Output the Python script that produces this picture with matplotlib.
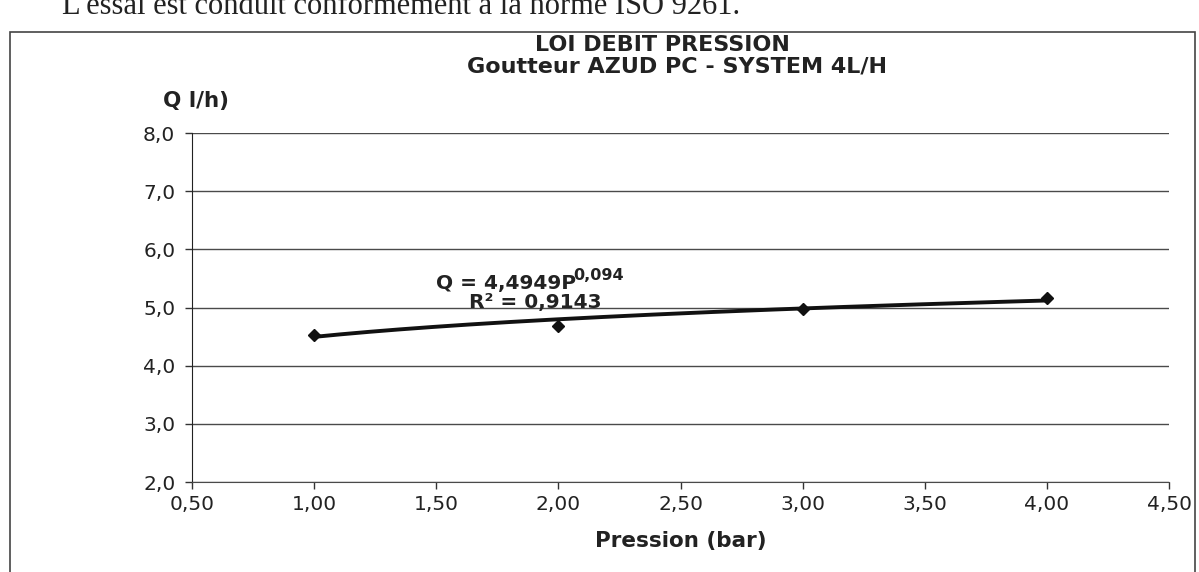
import matplotlib
matplotlib.use("Agg")
import matplotlib.pyplot as plt
import numpy as np
from matplotlib.patches import Rectangle

# Data
pression = [1.0, 2.0, 3.0, 4.0]
debit = [4.52, 4.68, 4.98, 5.17]
coef_a = 4.4949
coef_b = 0.094
r2 = 0.9143
xticks = [0.5, 1.0, 1.5, 2.0, 2.5, 3.0, 3.5, 4.0, 4.5]
yticks = [2.0, 3.0, 4.0, 5.0, 6.0, 7.0, 8.0]

plt.rcParams['font.family'] = ['DejaVu Sans']

W, H = 1199, 572
fig = plt.figure(figsize=(W / 100, H / 100), dpi=100)
fig.patch.set_facecolor('white')

def fx(px):
    return px / W

def fy(py):
    return 1 - py / H

TXT = '#222222'

# Scanned page context
fig.text(fx(62), fy(14), "L'essai est conduit conformément à la norme ISO 9261.",
         family=['Liberation Serif', 'DejaVu Serif'], fontsize=22, color=TXT,
         ha='left', va='baseline')
fig.patches.append(Rectangle((fx(10), -0.05), fx(1195) - fx(10), fy(32) + 0.05,
                             transform=fig.transFigure, fill=False,
                             edgecolor='#444444', linewidth=1.2))

ax = fig.add_axes([fx(192), fy(482), fx(1169) - fx(192), fy(133) - fy(482)])
ax.set_xlim(0.5, 4.5)
ax.set_ylim(2.0, 8.0)

for y in yticks:
    ax.axhline(y, color='#4a4a4a', linewidth=1.0, zorder=1)

xs = np.linspace(pression[0], pression[-1], 200)
ax.plot(xs, coef_a * xs ** coef_b, color='#111111', linewidth=2.8, zorder=3)
ax.plot(pression, debit, linestyle='none', marker='D', markersize=6,
        color='#111111', zorder=4)

ax.set_xticks(xticks)
ax.set_xticklabels([f"{v:.2f}".replace('.', ',') for v in xticks])
ax.set_yticks(yticks)
ax.set_yticklabels([f"{v:.1f}".replace('.', ',') for v in yticks])
ax.tick_params(axis='both', direction='out', length=5, width=1, color='#333333',
               labelsize=14.5, labelcolor=TXT)
ax.tick_params(axis='x', pad=4)
ax.tick_params(axis='y', pad=7)

for s in ['top', 'right']:
    ax.spines[s].set_visible(False)
ax.spines['left'].set_color('#222222')
ax.spines['bottom'].set_color('#4a4a4a')

fig.text(fx(662), fy(45), "LOI DEBIT PRESSION", ha='center', va='center',
         fontsize=16, fontweight='bold', color=TXT)
fig.text(fx(677), fy(67), "Goutteur AZUD PC - SYSTEM 4L/H", ha='center', va='center',
         fontsize=16, fontweight='bold', color=TXT)
fig.text(fx(163), fy(101), "Q l/h)", ha='left', va='center',
         fontsize=15.5, fontweight='bold', color=TXT)
fig.text(fx(681), fy(541), "Pression (bar)", ha='center', va='center',
         fontsize=15.5, fontweight='bold', color=TXT)

fig.text(fx(436), fy(283), "Q = " + f"{coef_a:.4f}".replace('.', ',') + "P",
         ha='left', va='center', fontsize=14.5, fontweight='bold', color=TXT)
fig.text(fx(573), fy(276), f"{coef_b:.3f}".replace('.', ','),
         ha='left', va='center', fontsize=11.5, fontweight='bold', color=TXT)
fig.text(fx(469), fy(302), "R² = " + f"{r2:.4f}".replace('.', ','),
         ha='left', va='center', fontsize=14.5, fontweight='bold', color=TXT)

fig.savefig("out.png", dpi=100, facecolor='white')
